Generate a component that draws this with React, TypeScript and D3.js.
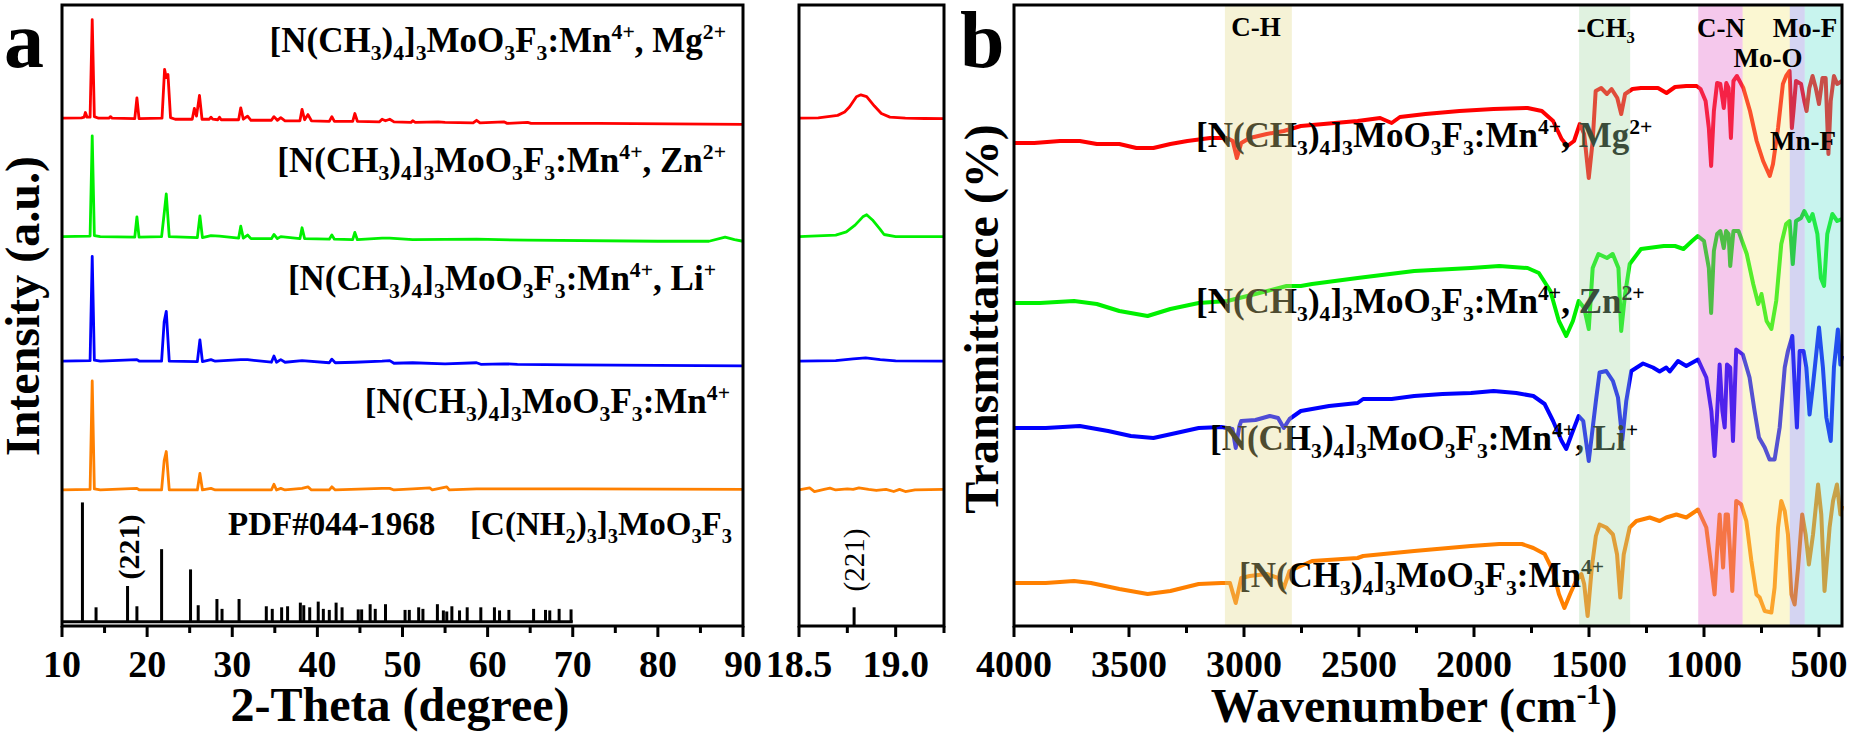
import React from 'react';
import * as d3 from 'd3';

type Pt = [number, number];
type Seg = [string, string];

// ---------- Panel a : XRD patterns (2θ, intensity above own baseline) ----------
const xrdMg: Pt[] = [[10,0],[12.3,0.3],[12.6,1],[12.75,5.5],[12.95,1],[13.3,1],[13.55,95],[13.8,1.5],[14.3,0],[15.5,0],[15.7,1.5],[15.9,0],[18.55,-0.5],[18.8,19.5],[19.05,-0.5],[21.75,0],[22.05,47],[22.25,39],[22.45,42],[22.75,0.5],[23.3,-1],[25.3,-1],[25.55,9.5],[25.8,2],[26.15,22],[26.45,-1],[27.3,-1],[27.5,1],[27.7,-1],[28.3,-1.5],[28.5,1],[28.7,-1.5],[30.75,-1.5],[31.0,10],[31.3,-1],[31.8,2],[32.2,-2],[34.6,-2],[34.9,1.5],[35.3,-2],[35.7,0.5],[36.2,-2.5],[37.95,-2.5],[38.2,8.5],[38.5,-1.5],[38.9,3.5],[39.3,-2.5],[41.4,-3],[41.7,1.5],[42.0,-3],[44.15,-3],[44.4,4.5],[44.7,-3],[47.3,-3.5],[47.6,-1],[48.0,-2.5],[48.5,-1],[49.0,-3.5],[51.0,-4],[51.2,-2.5],[51.5,-4],[54.2,-3.5],[55.0,-4],[58.3,-4.5],[58.7,-2],[59.1,-4.5],[61.9,-3.5],[62.3,-5],[64.7,-4],[65.1,-5],[73,-5],[90,-6]];
const xrdZn: Pt[] = [[10,0],[13.3,0.5],[13.55,97],[13.8,1],[14.5,0],[18.55,-0.5],[18.8,19],[19.05,-0.5],[21.7,0],[22.0,22],[22.25,41],[22.6,0],[25.9,-1],[26.2,20],[26.5,-1],[27.5,1],[28.5,0.5],[30.75,-1.5],[31.0,10],[31.3,-1.5],[31.8,1.5],[32.2,-2],[34.6,-2],[34.9,2],[35.3,-2],[35.7,0],[37.95,-2],[38.2,8.5],[38.5,-2],[41.4,-2.5],[41.7,1.5],[42,-2.5],[44.15,-3],[44.4,4],[44.7,-3],[47.6,-1.5],[48.5,-1.5],[51.2,-3],[58.7,-2.5],[64.7,-3.5],[80,-4.5],[86,-4.5],[87.9,-0.5],[89,-3],[90,-4.5]];
const xrdLi: Pt[] = [[10,0],[13.3,0.5],[13.55,101],[13.8,1],[14.5,0],[18.8,1.5],[19.1,0],[21.7,0],[22.0,38],[22.25,48],[22.6,0],[25.9,-0.5],[26.2,20.5],[26.5,-0.5],[27.5,1.5],[28,0],[31.0,1.5],[31.8,1.5],[34.6,-1],[34.9,5],[35.2,-1],[35.7,1.5],[36.2,-1],[38.2,0.5],[41.4,-1.5],[41.7,2],[42.1,-1.5],[44.4,-1],[47.6,0],[48.5,0.5],[49,-2],[51.2,-1.5],[55,-2.5],[58.7,-1.5],[59.2,-3],[61.9,-2.5],[63.5,-3],[70,-3.5],[90,-4.5]];
const xrdMn: Pt[] = [[10,0],[13.3,0.5],[13.55,105],[13.8,1],[14.5,0],[18.8,1.5],[19.1,0],[21.7,0],[22.0,28],[22.25,37],[22.6,0],[25.9,0],[26.2,16],[26.5,0],[27.5,1.5],[28,0],[34.6,0],[34.9,5.5],[35.2,0],[35.7,1.5],[36.2,0],[38.2,1.5],[38.9,3],[39.3,0],[41.4,0],[41.7,3],[42.1,0],[47.6,1.5],[48.5,1.5],[49,0],[51.2,1],[53.2,2],[53.5,0],[55.2,3],[55.5,0],[58.7,1],[61.9,1],[71,1],[90,0.5]];
// standard card PDF#044-1968 : [2θ, relative intensity]
const pdfSticks: Pt[] = [[12.4,115],[14.0,14],[17.7,34.5],[18.8,15],[21.7,70],[25.1,50.5],[26.0,16],[28.2,22],[28.8,12.5],[30.8,22],[34.0,15],[34.7,12.5],[35.8,14],[36.5,15],[38.0,18.5],[38.4,16],[39.1,14],[40.1,19.5],[40.7,12.5],[41.4,11.5],[42.2,18.5],[42.9,14],[44.8,12],[45.2,12],[46.2,17],[46.8,12.5],[48.0,17],[50.3,11.5],[50.8,11.5],[51.9,14],[52.4,12.5],[54.1,17],[54.8,11],[55.2,10],[55.8,15],[56.7,11],[57.6,14],[59.2,14],[60.8,14],[61.4,11],[62.5,11.5],[65.4,12.5],[66.8,11.5],[67.3,11],[68.4,12.5],[69.8,12]];
const xrdOffsets = [489, 375, 255, 131];
const stickBase = 4;

// ---------- middle panel : (221) region ----------
const zMg: Pt[] = [[18.5,0],[18.6,0.3],[18.7,2.7],[18.736,5.9],[18.762,11],[18.797,20.7],[18.82,22.5],[18.85,20.7],[18.89,11.7],[18.926,4.5],[18.97,1],[19.05,0],[19.15,-0.3],[19.25,-0.5]];
const zZn: Pt[] = [[18.5,0],[18.69,1.4],[18.745,4.5],[18.79,11],[18.83,19],[18.85,21],[18.88,16],[18.92,7],[18.94,2],[19.0,0],[19.25,0]];
const zLi: Pt[] = [[18.5,0],[18.69,0.5],[18.78,2.2],[18.845,3.2],[18.92,1.5],[19.0,0.3],[19.25,0]];
const zMn: Pt[] = [[18.5,0],[18.555,2],[18.58,-1.5],[18.63,0.5],[18.66,1.8],[18.69,0],[18.75,1],[18.78,0.5],[18.81,2],[18.86,0.5],[18.9,-0.5],[18.95,0.5],[18.99,-1.5],[19.02,0.5],[19.05,-1.5],[19.1,0],[19.25,0.5]];
const zStick: Pt[] = [[18.785, 18]];

// ---------- Panel b : FTIR (wavenumber, transmittance a.u. above own offset) ----------
const irMg: Pt[] = [[4000,6.6],[3912,6.6],[3800,7],[3714,7],[3640,6.4],[3542,6.4],[3468,5.6],[3394,5.6],[3320,6.4],[3246,7],[3147,7.6],[3073,7.6],[3049,7],[3031,3.6],[3012,6.6],[2975,7.6],[2901,8.4],[2827,9],[2753,10],[2654,10.4],[2506,11],[2408,11.6],[2358,10.6],[2322,11.8],[2211,12.4],[2063,13],[1915,13.4],[1767,13.6],[1705,13],[1656,11],[1619,7.4],[1594,6],[1565,7],[1540,10.4],[1521,8.4],[1501,-0.4],[1484,7],[1471,17],[1447,17.6],[1422,16.4],[1402,17.4],[1377,15.6],[1360,12.4],[1343,16.4],[1311,17.4],[1274,17.6],[1200,17.6],[1163,16.6],[1126,17.8],[1077,18],[1032,18],[1015,17.4],[993,15],[979,9.6],[969,2],[957,13],[943,18.6],[929,18.4],[914,13.6],[903,18.6],[893,17.6],[883,7.6],[872,19],[857,20],[829,17.6],[800,13],[771,7],[743,3],[714,0],[700,2.4],[678,9.6],[657,18.4],[643,20],[628,21],[618,9.6],[611,13],[600,19],[578,18.4],[564,15],[554,13],[542,17.6],[528,20],[514,17.6],[500,14.4],[485,19.6],[471,19.6],[459,4.4],[449,15],[435,20],[421,18.4],[400,19]];
const irZn: Pt[] = [[4000,4.6],[3887,4.6],[3739,5],[3640,4.4],[3542,3],[3419,2],[3320,3.4],[3197,4.6],[3073,5],[2950,6.4],[2815,8],[2753,8],[2704,8.4],[2506,9.6],[2260,11],[2013,11.6],[1890,12],[1767,11.6],[1718,10.6],[1668,7],[1631,1],[1599,-2],[1570,1],[1545,5],[1521,3.6],[1501,-0.6],[1484,11.6],[1459,14.4],[1422,13.6],[1397,14.4],[1372,11.6],[1360,-1],[1343,6.4],[1323,12.4],[1274,15.4],[1175,16],[1126,16],[1089,15.4],[1052,17],[1027,18],[1000,17],[979,11.6],[969,2.6],[957,15],[943,18.4],[929,19],[914,15.6],[904,19],[893,18.4],[886,12],[872,19],[850,19],[814,14.4],[786,8.4],[764,4.4],[750,6.4],[728,1],[707,-0.6],[686,5],[664,16.4],[643,20.4],[628,21],[614,12.4],[600,21],[578,21.6],[564,23],[542,21],[528,22.4],[507,18.4],[492,9.6],[478,8],[464,18.4],[442,22.4],[421,21],[400,21.4]];
const irLi: Pt[] = [[4000,9.6],[3862,9.6],[3714,10],[3591,9],[3492,8],[3394,7.6],[3295,8.6],[3197,9.6],[3098,9.8],[3050,9.4],[3036,5.6],[3020,10],[3012,11],[2950,11.2],[2888,12],[2852,11.6],[2827,9.6],[2802,11.4],[2753,13],[2630,14],[2506,14.6],[2482,15.4],[2358,15.4],[2260,16],[2137,16.4],[2013,16.6],[1915,17],[1816,16.6],[1742,16],[1693,14.4],[1656,11],[1619,7],[1599,5.4],[1575,8.4],[1545,12],[1525,11],[1501,3],[1484,9.6],[1470,15],[1454,20.7],[1425,21],[1396,19],[1374,15.7],[1355,7.3],[1338,15],[1316,21],[1265,22.5],[1222,21.7],[1193,20.9],[1164,21.7],[1149,20.9],[1113,23],[1077,22],[1026,23.3],[990,19.7],[968,13],[954,4],[944,11.7],[932,22.3],[920,13],[910,9.7],[900,22.3],[886,21.7],[874,7],[860,25.3],[831,24.3],[802,19.7],[780,13],[761,7.7],[736,5.7],[715,3.3],[693,3.3],[671,9.7],[649,21.7],[635,25],[616,28],[606,18.3],[596,9.7],[584,25],[567,25],[555,21.7],[541,12.3],[526,18.3],[500,29.7],[483,21.7],[468,11.7],[449,7],[435,21.7],[418,29.3],[407,22.3],[400,24]];
const irMn: Pt[] = [[4000,8.6],[3862,8.6],[3739,9],[3665,8.6],[3542,7.4],[3419,6.4],[3320,7],[3197,8.4],[3098,8.6],[3061,8.6],[3036,4.6],[3012,9.6],[2975,10],[2901,10.4],[2852,9.6],[2827,7.6],[2802,11],[2704,13],[2506,13.6],[2482,14],[2260,15],[2013,16],[1890,16.4],[1792,16.4],[1742,15.6],[1693,14.4],[1656,11],[1631,6.4],[1607,3.6],[1582,6.4],[1557,9],[1533,10.4],[1521,8.4],[1506,2],[1488,11.6],[1470,18],[1454,20.3],[1425,19.7],[1396,18.3],[1378,14.3],[1364,5.7],[1349,14.3],[1323,19.7],[1294,21],[1236,21.7],[1193,21],[1164,21.7],[1120,22.3],[1077,21.7],[1026,23.3],[990,19.7],[968,11.7],[954,6.3],[944,14.3],[932,22.3],[917,11.7],[906,22.3],[896,22.3],[877,7],[860,25],[838,24.3],[816,21],[794,13],[772,6.3],[758,5.7],[736,3],[707,2.7],[693,7.7],[678,19.7],[664,25],[649,23],[635,18.3],[620,6.3],[606,4.3],[591,11.7],[573,22.3],[558,18.3],[544,12.3],[526,18.3],[504,28.3],[490,22.3],[476,7],[454,19.7],[439,25],[422,28.3],[407,22.3],[400,24]];
const irOffsets = [90, 60, 30, 0];

// absorption band regions
const bandFrom = [3083, 1543, 1025, 832, 627, 562];
const bandTo = [2792, 1321, 832, 627, 562, 400];
const bandColors = ['#e2d98a', '#a6daa6', '#e262c8', '#f4e87e', '#8484da', '#62dfce'];

const seriesColors = ['#ff0000', '#00f000', '#0000ff', '#ff8000'];
const xTicksA = [10, 20, 30, 40, 50, 60, 70, 80, 90];
const xMinorA = [15, 25, 35, 45, 55, 65, 75, 85];
const xTicksM = [18.5, 19.0];
const xMinorM = [18.75, 19.25];
const xTicksB = [4000, 3500, 3000, 2500, 2000, 1500, 1000, 500];
const xMinorB = [3750, 3250, 2750, 2250, 1750, 1250, 750];

const base: Seg[] = [['[N(CH', ''], ['3', 'sub'], [')', ''], ['4', 'sub'], [']', ''], ['3', 'sub'], ['MoO', ''], ['3', 'sub'], ['F', ''], ['3', 'sub'], [':Mn', ''], ['4+', 'sup']];
const labelSegs: Seg[][] = [
  [...base, [', Mg', ''], ['2+', 'sup']],
  [...base, [', Zn', ''], ['2+', 'sup']],
  [...base, [', Li', ''], ['+', 'sup']],
  [...base],
];
const pdfSegs: Seg[] = [['[C(NH', ''], ['2', 'sub'], [')', ''], ['3', 'sub'], [']', ''], ['3', 'sub'], ['MoO', ''], ['3', 'sub'], ['F', ''], ['3', 'sub']];

const FONT = '"Liberation Serif", "Times New Roman", serif';

function Formula({ segs, x, y, size, anchor = 'start', fill = '#000' }: any) {
  let cur = 0;
  return (
    <text x={x} y={y} fontSize={size} fontWeight="bold" textAnchor={anchor} fill={fill} fontFamily={FONT}>
      {segs.map(([t, k]: Seg, i: number) => {
        const target = k === 'sub' ? size * 0.23 : k === 'sup' ? -size * 0.37 : 0;
        const dy = target - cur;
        cur = target;
        return (
          <tspan key={i} dy={dy} fontSize={k ? size * 0.62 : size}>{t}</tspan>
        );
      })}
    </text>
  );
}

export default function App() {
  const xA = d3.scaleLinear().domain([10, 90]).range([62, 743]);
  const yA = d3.scaleLinear().domain([0, 598]).range([626, 5]);
  const xM = d3.scaleLinear().domain([18.5, 19.25]).range([799, 944]);
  const xB = d3.scaleLinear().domain([4000, 400]).range([1014, 1842]);
  const yB = d3.scaleLinear().domain([0, 124]).range([626, 6]);

  const xrd = [xrdMg, xrdZn, xrdLi, xrdMn];
  const zoomD = [zMg, zZn, zLi, zMn];
  const ir = [irMg, irZn, irLi, irMn];

  const lineA = (off: number) => d3.line<Pt>().x(d => xA(d[0])).y(d => yA(d[1] + off));
  const lineM = (off: number) => d3.line<Pt>().x(d => xM(d[0])).y(d => yA(d[1] + off));
  const lineB = (off: number) => d3.line<Pt>().x(d => xB(d[0])).y(d => yB(d[1] + off));

  const axisY = 626;
  const tickFont = 38;

  const frame = (x0: number, x1: number) => (
    <rect x={x0} y={5} width={x1 - x0} height={axisY - 5} fill="none" stroke="#000" strokeWidth={3} />
  );

  const ticks = (scale: any, major: number[], minor: number[], fmt: (v: number) => string) => (
    <g>
      {major.map((v, i) => (
        <g key={'M' + i}>
          <line x1={scale(v)} x2={scale(v)} y1={axisY} y2={axisY + 11} stroke="#000" strokeWidth={3} />
          <text x={scale(v)} y={677} fontSize={tickFont} fontWeight="bold" textAnchor="middle" fontFamily={FONT}>{fmt(v)}</text>
        </g>
      ))}
      {minor.map((v, i) => (
        <line key={'m' + i} x1={scale(v)} x2={scale(v)} y1={axisY} y2={axisY + 7} stroke="#000" strokeWidth={3} />
      ))}
    </g>
  );

  const formulaA = [
    { x: 726, y: 52 },
    { x: 726, y: 172 },
    { x: 716, y: 290 },
    { x: 730, y: 413 },
  ];
  const formulaB = [
    { x: 1196, y: 147 },
    { x: 1196, y: 313 },
    { x: 1210, y: 450 },
    { x: 1239, y: 587 },
  ];

  return (
    <svg width={1852} height={739} style={{ position: 'absolute', left: 0, top: 0, background: '#fff' }} fontFamily={FONT}>
      <rect x={0} y={0} width={1852} height={739} fill="#fff" />

      {/* ---------------- Panel a ---------------- */}
      {xrd.map((d, i) => (
        <path key={i} d={lineA(xrdOffsets[i])(d) || ''} fill="none" stroke={seriesColors[i]} strokeWidth={2.8} strokeLinejoin="round" />
      ))}
      <line x1={xA(10)} x2={xA(70)} y1={yA(stickBase)} y2={yA(stickBase)} stroke="#000" strokeWidth={3} />
      {pdfSticks.map((d, i) => (
        <line key={i} x1={xA(d[0])} x2={xA(d[0])} y1={yA(stickBase)} y2={yA(stickBase + d[1])} stroke="#000" strokeWidth={3} />
      ))}
      {labelSegs.map((s, i) => (
        <Formula key={i} segs={s} x={formulaA[i].x} y={formulaA[i].y} size={35} anchor="end" />
      ))}
      <text x={228} y={535} fontSize={33} fontWeight="bold">PDF#044-1968</text>
      <Formula segs={pdfSegs} x={732} y={535} size={33} anchor="end" />
      <text transform={`translate(${xA(17.7) + 11},547) rotate(-90)`} fontSize={30} fontWeight="bold" textAnchor="middle">(221)</text>
      {frame(xA(10), xA(90))}
      {ticks(xA, xTicksA, xMinorA, v => String(v))}
      <text x={400} y={721} fontSize={48} fontWeight="bold" textAnchor="middle">2-Theta (degree)</text>
      <text transform="translate(39,306) rotate(-90)" fontSize={48} fontWeight="bold" textAnchor="middle">Intensity (a.u.)</text>
      <text x={4} y={67} fontSize={80} fontWeight="bold">a</text>

      {/* ---------------- middle panel ---------------- */}
      {zoomD.map((d, i) => (
        <path key={i} d={lineM(xrdOffsets[i])(d) || ''} fill="none" stroke={seriesColors[i]} strokeWidth={2.8} strokeLinejoin="round" />
      ))}
      {zStick.map((d, i) => (
        <line key={i} x1={xM(d[0])} x2={xM(d[0])} y1={yA(0)} y2={yA(d[1])} stroke="#000" strokeWidth={3} />
      ))}
      <text transform={`translate(${xM(18.785) + 10},560) rotate(-90)`} fontSize={29} textAnchor="middle">(221)</text>
      {frame(xM(18.5), xM(19.25))}
      {ticks(xM, xTicksM, xMinorM, v => v.toFixed(1))}

      {/* ---------------- Panel b ---------------- */}
      {ir.map((d, i) => (
        <path key={i} d={lineB(irOffsets[i])(d) || ''} fill="none" stroke={seriesColors[i]} strokeWidth={4} strokeLinejoin="round" />
      ))}
      {labelSegs.map((s, i) => (
        <Formula key={i} segs={s} x={formulaB[i].x} y={formulaB[i].y} size={35} anchor="start" />
      ))}
      {bandFrom.map((f, i) => (
        <rect key={i} x={xB(f)} y={5} width={xB(bandTo[i]) - xB(f)} height={axisY - 5} fill={bandColors[i]} opacity={0.35} />
      ))}
      <text x={1256} y={36} fontSize={27} fontWeight="bold" textAnchor="middle">C-H</text>
      <Formula segs={[['-CH', ''], ['3', 'sub']]} x={1577} y={37} size={27} anchor="start" />
      <text x={1721} y={37} fontSize={27} fontWeight="bold" textAnchor="middle">C-N</text>
      <text x={1768} y={67} fontSize={27} fontWeight="bold" textAnchor="middle">Mo-O</text>
      <text x={1805} y={37} fontSize={27} fontWeight="bold" textAnchor="middle">Mo-F</text>
      <text x={1803} y={150} fontSize={27} fontWeight="bold" textAnchor="middle">Mn-F</text>
      {frame(xB(4000), xB(400))}
      {ticks(xB, xTicksB, xMinorB, v => String(v))}
      <text x={1414} y={722} fontSize={48} fontWeight="bold" textAnchor="middle">
        Wavenumber (cm<tspan dy={-18} fontSize={30}>-1</tspan><tspan dy={18}>)</tspan>
      </text>
      <text transform="translate(998,319) rotate(-90)" fontSize={48} fontWeight="bold" textAnchor="middle">Transmittance (%)</text>
      <text x={960} y={67} fontSize={80} fontWeight="bold">b</text>
    </svg>
  );
}
